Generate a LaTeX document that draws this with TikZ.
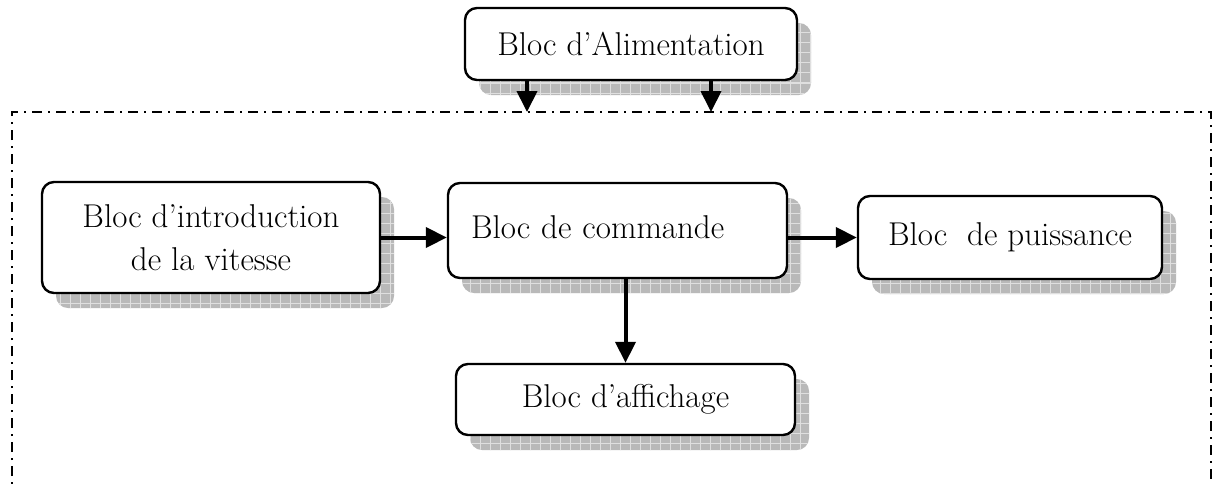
\documentclass[tikz,border=0pt]{standalone}
\usepackage{tikz}
\usetikzlibrary{positioning}
\usetikzlibrary{arrows.meta}
\usetikzlibrary{shadows}
\usetikzlibrary{patterns.meta}
\usetikzlibrary{calc}

\begin{document}
\begin{tikzpicture}[
                      x=0.5pt, y=-0.5pt,
                      bloc/.style={rectangle, rounded corners=6pt, draw, line width=1.2pt, fill=white,
                                   font=\fontsize{16.5}{21.5}\selectfont,
                                   general shadow={shadow xshift=7pt, shadow yshift=-7.5pt, fill=gray!55,
                                                   postaction={pattern={Hatch[angle=0, distance=5pt, line width=0.5pt]}, pattern color=gray!25}}},
                      fleche/.style={line width=2pt, -{Triangle[length=10.5pt, width=10pt]}},
                      cadre/.style={line width=0.8pt, dash pattern=on 5pt off 3pt on 1pt off 3pt}
                  ]
                  \clip (0,0) rectangle (1214,483);
                  % frame around the card
                  \draw[cadre] (12,500) -- (12,112) -- (1211,112) -- (1211,500);
                  \coordinate (fa) at (527,112);
                  \coordinate (fb) at (711,112);
                  % blocks
                  \node[bloc, minimum width=166pt, minimum height=36pt] at (631,44) (alim) {Bloc d'Alimentation};
                  \node[bloc, minimum width=169pt, minimum height=55.5pt, align=center] at (211,237.5) (intro) {Bloc d'introduction\\de la vitesse};
                  \node[bloc, minimum height=47.5pt, inner xsep=11.5pt, text width=146.5pt, align=left] at (617.5,230.5) (cmd) {Bloc de commande\vphantom{g}\\[4pt]};
                  \node[bloc, minimum width=152pt, minimum height=41.5pt] at (1010,237.5) (puis) {Bloc\ \ de puissance\\[2pt]};
                  \node[bloc, minimum width=169.5pt, minimum height=35.5pt] at (625.5,399.5) (aff) {Bloc d'affichage};
                  % links
                  \draw[fleche] (alim.south -| fa) -- (fa);
                  \draw[fleche] (alim.south -| fb) -- (fb);
                  \draw[fleche] (intro.east) -- (intro.east -| cmd.west);
                  \draw[fleche] (cmd.east |- puis.west) -- (puis.west);
                  \draw[fleche] (cmd.south -| aff.north) -- (aff.north);
              \end{tikzpicture}
\end{document}
